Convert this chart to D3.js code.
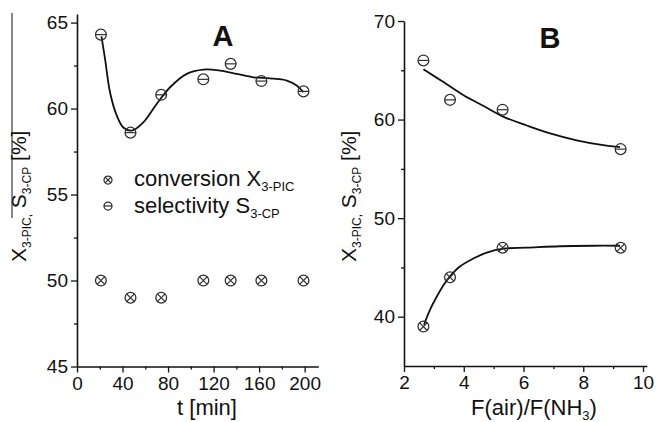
<!DOCTYPE html>
<html>
<head>
<meta charset="utf-8">
<script src="https://cdn.jsdelivr.net/npm/d3@7"></script>
<style>
  html, body { margin: 0; padding: 0; background: #fff; }
  svg { display: block; }
  text { font-family: 'Liberation Sans', Arial, Helvetica, sans-serif; fill: #111; }
</style>
</head>
<body>
<svg id="chart" width="657" height="422"></svg>
<script>
// ---- Panel A: time on stream ----
const timeMin      = [21, 47, 74, 111, 135, 162, 199];
const conversionA  = [50, 49, 49, 50, 50, 50, 50];
const selectivityA = [64.3, 58.6, 60.8, 61.7, 62.6, 61.6, 61.0];
// smoothed selectivity trend
const trendTimeA = [21.5, 24.6, 29, 34.9, 40.7, 48, 58.3, 70, 81.8, 96.4, 111, 125.7, 140.4, 155, 169.7, 184.4, 193, 199];
const trendSelA  = [64.2, 62.9, 60.95, 59.6, 58.9, 58.72, 59.2, 60.27, 61.24, 62.02, 62.27, 62.21, 62.02, 61.82, 61.76, 61.63, 61.34, 60.95];
const ticksTimeA  = [0, 40, 80, 120, 160, 200];
const minorTimeA  = [20, 60, 100, 140, 180];
const ticksValueA = [45, 50, 55, 60, 65];
const minorValueA = [47.5, 52.5, 57.5, 62.5];

// ---- Panel B: air / ammonia feed ratio ----
const airRatio     = [2.65, 3.54, 5.3, 9.25];
const conversionB  = [39, 44, 47, 47];
const selectivityB = [66, 62, 61, 57];
const trendRatioSelB = [2.65, 3.32, 3.98, 4.65, 5.32, 6.11, 6.89, 7.78, 8.67, 9.23];
const trendSelB      = [65.1, 63.8, 62.5, 61.4, 60.3, 59.4, 58.6, 57.9, 57.4, 57.2];
const trendRatioConvB = [2.67, 2.87, 3.09, 3.32, 3.54, 3.87, 4.32, 4.77, 5.32, 6.11, 7.22, 8.34, 9.23];
const trendConvB      = [39.2, 40.7, 42.0, 43.2, 44.1, 45.1, 45.9, 46.5, 46.9, 47.0, 47.15, 47.2, 47.2];
const ticksRatioB = [2, 4, 6, 8, 10];
const minorRatioB = [3, 5, 7, 9];
const ticksValueB = [40, 50, 60, 70];
const minorValueB = [45, 55, 65];

const svg = d3.select('#chart');
const markerColor = '#2e2e2e';

function drawAxes(g, x, y, xt, xm, yt, ym) {
  const [x0] = x.range();
  const [y0] = y.range();
  const tickFont = '19px';
  // minor ticks
  g.append('g').attr('transform', `translate(0,${y0})`)
    .call(d3.axisBottom(x).tickValues(xm).tickSize(3).tickFormat('').tickSizeOuter(0))
    .call(a => a.select('.domain').remove());
  g.append('g').attr('transform', `translate(${x0},0)`)
    .call(d3.axisLeft(y).tickValues(ym).tickSize(3).tickFormat('').tickSizeOuter(0))
    .call(a => a.select('.domain').remove());
  // major ticks and labels
  const xa = g.append('g').attr('transform', `translate(0,${y0})`)
    .call(d3.axisBottom(x).tickValues(xt).tickSize(6).tickPadding(4).tickSizeOuter(0).tickFormat(d3.format('d')));
  const ya = g.append('g').attr('transform', `translate(${x0},0)`)
    .call(d3.axisLeft(y).tickValues(yt).tickSize(6).tickPadding(3).tickSizeOuter(0).tickFormat(d3.format('d')));
  [xa, ya].forEach(a => {
    a.selectAll('text').attr('font-size', tickFont).attr('font-family', null).attr('fill', '#111');
    a.select('.domain').attr('stroke', '#111').attr('stroke-width', 1.6);
  });
  g.selectAll('.tick line').attr('stroke', '#111').attr('stroke-width', 1.3);
}

function crossMarker(sel, r) {
  sel.append('circle').attr('r', r).attr('fill', 'none').attr('stroke', markerColor).attr('stroke-width', 1.25);
  const k = r * 0.72;
  sel.append('line').attr('x1', -k).attr('y1', -k).attr('x2', k).attr('y2', k).attr('stroke', markerColor).attr('stroke-width', 1.2);
  sel.append('line').attr('x1', -k).attr('y1', k).attr('x2', k).attr('y2', -k).attr('stroke', markerColor).attr('stroke-width', 1.2);
}
function barMarker(sel, r) {
  sel.append('circle').attr('r', r).attr('fill', 'none').attr('stroke', markerColor).attr('stroke-width', 1.25);
  sel.append('line').attr('x1', -r).attr('y1', 0).attr('x2', r).attr('y2', 0).attr('stroke', markerColor).attr('stroke-width', 1.2);
}

function subLabel(textSel, parts, subSize) {
  // parts: [text, isSub]
  const ss = subSize || 12;
  let shifted = false;
  parts.forEach(([t, sub]) => {
    const ts = textSel.append('tspan').text(t);
    if (sub && !shifted) { ts.attr('dy', 5).attr('font-size', ss + 'px'); shifted = true; }
    else if (sub) { ts.attr('font-size', ss + 'px'); }
    else if (!sub && shifted) { ts.attr('dy', -5); shifted = false; }
  });
}

// ================= Panel A =================
const xA = d3.scaleLinear().domain([0, 212]).range([77, 318.3]);
const yA = d3.scaleLinear().domain([45, 65.5]).range([366.5, 14]);
const gA = svg.append('g');

// left border stroke beside the title
gA.append('line').attr('x1', 12).attr('x2', 12).attr('y1', 13).attr('y2', 218)
  .attr('stroke', '#555').attr('stroke-width', 1.4);

drawAxes(gA, xA, yA, ticksTimeA, minorTimeA, ticksValueA, minorValueA);

const lineA = d3.line().x(d => xA(d[0])).y(d => yA(d[1])).curve(d3.curveCatmullRom.alpha(0.5));
gA.append('path').datum(trendTimeA.map((t, i) => [t, trendSelA[i]]))
  .attr('d', lineA).attr('fill', 'none').attr('stroke', '#111').attr('stroke-width', 1.8);

gA.selectAll('.convA').data(timeMin.map((t, i) => [t, conversionA[i]])).enter()
  .append('g').attr('transform', d => `translate(${xA(d[0])},${yA(d[1])})`)
  .each(function () { crossMarker(d3.select(this), 5.4); });
gA.selectAll('.selA').data(timeMin.map((t, i) => [t, selectivityA[i]])).enter()
  .append('g').attr('transform', d => `translate(${xA(d[0])},${yA(d[1])})`)
  .each(function () { barMarker(d3.select(this), 5.4); });

gA.append('text').attr('x', 223).attr('y', 46).attr('text-anchor', 'middle')
  .attr('font-size', '29px').attr('font-weight', 'bold').text('A');

gA.append('text').attr('x', 207).attr('y', 415).attr('text-anchor', 'middle')
  .attr('font-size', '22px').text('t [min]');

const ytA = gA.append('text').attr('transform', 'translate(26,262) rotate(-90)')
  .attr('font-size', '21px');
subLabel(ytA, [['X', false], ['3-PIC,', true], [' S', false], ['3-CP', true], [' [%]', false]]);

// legend
const legend = gA.append('g');
legend.append('g').attr('transform', 'translate(108,180)').call(s => crossMarker(s, 4));
legend.append('g').attr('transform', 'translate(108,206)').call(s => barMarker(s, 4));
const l1 = legend.append('text').attr('x', 134).attr('y', 186).attr('font-size', '22px');
subLabel(l1, [['conversion X', false], ['3-PIC', true]], 13);
const l2 = legend.append('text').attr('x', 134).attr('y', 213).attr('font-size', '22px');
subLabel(l2, [['selectivity S', false], ['3-CP', true]], 13);

// ================= Panel B =================
const xB = d3.scaleLinear().domain([2, 10.13]).range([404, 646.9]);
const yB = d3.scaleLinear().domain([35, 70]).range([366, 21]);
const gB = svg.append('g');

drawAxes(gB, xB, yB, ticksRatioB, minorRatioB, ticksValueB, minorValueB);

const lineB = d3.line().x(d => xB(d[0])).y(d => yB(d[1])).curve(d3.curveCatmullRom.alpha(0.5));
gB.append('path').datum(trendRatioSelB.map((f, i) => [f, trendSelB[i]]))
  .attr('d', lineB).attr('fill', 'none').attr('stroke', '#111').attr('stroke-width', 1.8);
gB.append('path').datum(trendRatioConvB.map((f, i) => [f, trendConvB[i]]))
  .attr('d', lineB).attr('fill', 'none').attr('stroke', '#111').attr('stroke-width', 1.8);

gB.selectAll('.convB').data(airRatio.map((f, i) => [f, conversionB[i]])).enter()
  .append('g').attr('transform', d => `translate(${xB(d[0])},${yB(d[1])})`)
  .each(function () { crossMarker(d3.select(this), 5.4); });
gB.selectAll('.selB').data(airRatio.map((f, i) => [f, selectivityB[i]])).enter()
  .append('g').attr('transform', d => `translate(${xB(d[0])},${yB(d[1])})`)
  .each(function () { barMarker(d3.select(this), 5.4); });

gB.append('text').attr('x', 550).attr('y', 48).attr('text-anchor', 'middle')
  .attr('font-size', '29px').attr('font-weight', 'bold').text('B');

const xtB = gB.append('text').attr('x', 534).attr('y', 415).attr('text-anchor', 'middle')
  .attr('font-size', '22px');
subLabel(xtB, [['F(air)/F(NH', false], ['3', true], [')', false]], 13);

const ytB = gB.append('text').attr('transform', 'translate(356,262) rotate(-90)')
  .attr('font-size', '21px');
subLabel(ytB, [['X', false], ['3-PIC,', true], [' S', false], ['3-CP', true], [' [%]', false]]);
</script>
</body>
</html>
